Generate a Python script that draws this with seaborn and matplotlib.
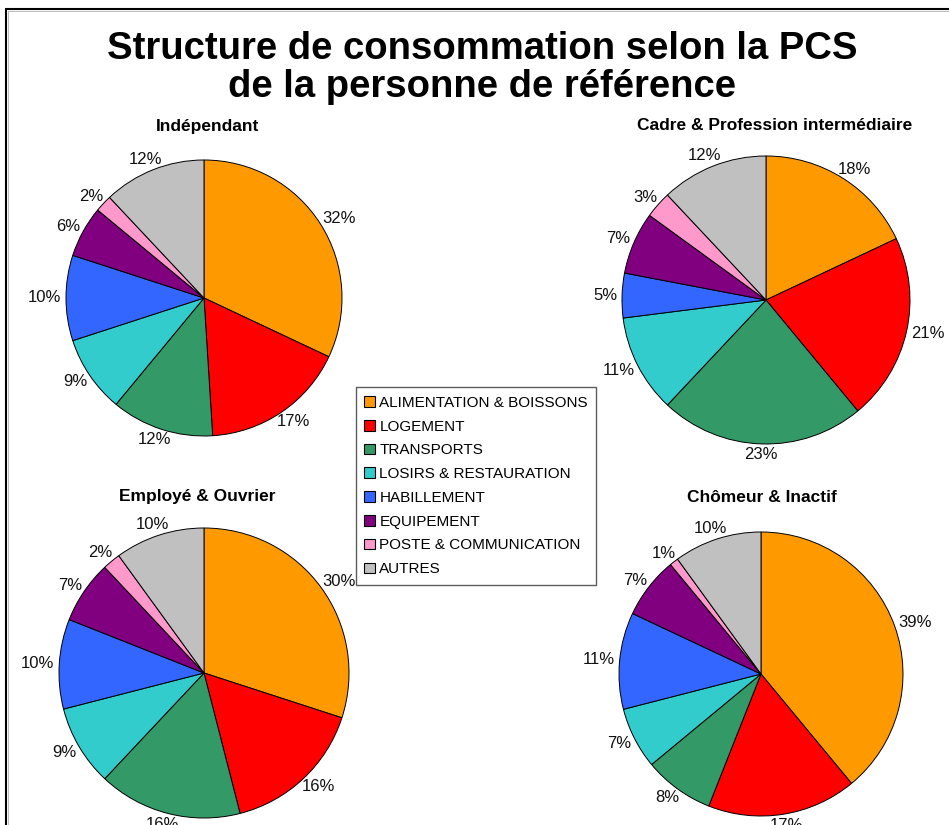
"""Pie charts: structure de consommation selon la PCS."""
import numpy as np
import seaborn as sns
import matplotlib.pyplot as plt
from matplotlib.lines import Line2D
from matplotlib.patches import Patch

categories = ['ALIMENTATION & BOISSONS', 'LOGEMENT', 'TRANSPORTS',
              'LOSIRS & RESTAURATION', 'HABILLEMENT', 'EQUIPEMENT',
              'POSTE & COMMUNICATION', 'AUTRES']
groups = ['Indépendant', 'Cadre & Profession intermédiaire',
          'Employé & Ouvrier', 'Chômeur & Inactif']
independant = [32, 17, 12, 9, 10, 6, 2, 12]
cadre = [18, 21, 23, 11, 5, 7, 3, 12]
employe = [30, 16, 16, 9, 10, 7, 2, 10]
chomeur = [39, 17, 8, 7, 11, 7, 1, 10]
colors = ['#FF9900', '#FF0000', '#339966', '#33CCCC',
          '#3366FF', '#800080', '#FF99CC', '#C0C0C0']

sns.set_theme(style='white')
plt.rcParams['font.family'] = ['Liberation Sans', 'DejaVu Sans']
plt.rcParams['text.color'] = 'black'
palette = sns.color_palette(colors)

W, H = 949, 825
fig = plt.figure(figsize=(W / 100, H / 100), dpi=100)
fig.patch.set_facecolor('white')

# centre x, centre y (from top), radius, title x, title y -- in pixels
layout = [(204, 298, 138, 208, 126),
          (766, 300, 144, 775, 126),
          (204, 673, 145, 197, 496),
          (761, 674, 142, 762, 498)]

pies = []
for name, vals, (cx, cy, r, tx, ty) in zip(groups, [independant, cadre, employe, chomeur], layout):
    half = r * 1.25
    ax = fig.add_axes([(cx - half) / W, 1 - (cy + half) / H, 2 * half / W, 2 * half / H])
    ax.patch.set_visible(False)
    wedges, texts = ax.pie(vals, labels=[f'{v}%' for v in vals], colors=palette,
                           startangle=90, counterclock=False, labeldistance=1.1,
                           wedgeprops=dict(edgecolor='black', linewidth=0.7),
                           textprops=dict(fontsize=12, color='#111111'))
    ax.set_xlim(-1.25, 1.25)
    ax.set_ylim(-1.25, 1.25)
    ax.set_aspect('equal')
    fig.text(tx / W, 1 - ty / H, name, ha='center', va='center',
             fontsize=12.5, fontweight='bold', color='black')
    pies.append((wedges, texts, r))

# put each label just outside the rim, like the original
fig.canvas.draw()
renderer = fig.canvas.get_renderer()
for wedges, texts, r in pies:
    for w, t in zip(wedges, texts):
        ang = np.deg2rad((w.theta1 + w.theta2) / 2)
        ux, uy = np.cos(ang), np.sin(ang)
        bb = t.get_window_extent(renderer)
        bw, bh = bb.width / r, bb.height / r
        d = 1 + 5 / r
        t.set_ha('center')
        t.set_va('center')
        t.set_position((ux * d + ux * bw / 2, uy * d + uy * bh * 0.4))

fig.text(482 / W, 1 - 59 / H, 'Structure de consommation selon la PCS',
         ha='center', va='baseline', fontsize=27.5, fontweight='bold', color='black')
fig.text(482 / W, 1 - 97 / H, 'de la personne de référence',
         ha='center', va='baseline', fontsize=27.5, fontweight='bold', color='black')

handles = [Patch(facecolor=c, edgecolor='black', linewidth=0.8) for c in palette]
leg = fig.legend(handles, categories, loc='center', bbox_to_anchor=(476 / W, 1 - 486 / H),
                 fontsize=11, frameon=True, fancybox=False, shadow=False,
                 handlelength=0.7, handleheight=0.7, handletextpad=0.3,
                 labelspacing=0.64, borderpad=0.55, borderaxespad=0)
leg.get_frame().set_edgecolor('#333333')
leg.get_frame().set_linewidth(1.0)

# frame of the original chart area (top and left edges)
fig.add_artist(Line2D([6 / W, 1], [1 - 9 / H, 1 - 9 / H], color='black', lw=1.5))
fig.add_artist(Line2D([6 / W, 6 / W], [0, 1 - 9 / H], color='black', lw=1.5))
fig.add_artist(Line2D([8 / W, 1], [1 - 11 / H, 1 - 11 / H], color='#bbbbbb', lw=0.7))
fig.add_artist(Line2D([8 / W, 8 / W], [0, 1 - 11 / H], color='#bbbbbb', lw=0.7))

fig.savefig('out.png', dpi=100)
plt.close(fig)
